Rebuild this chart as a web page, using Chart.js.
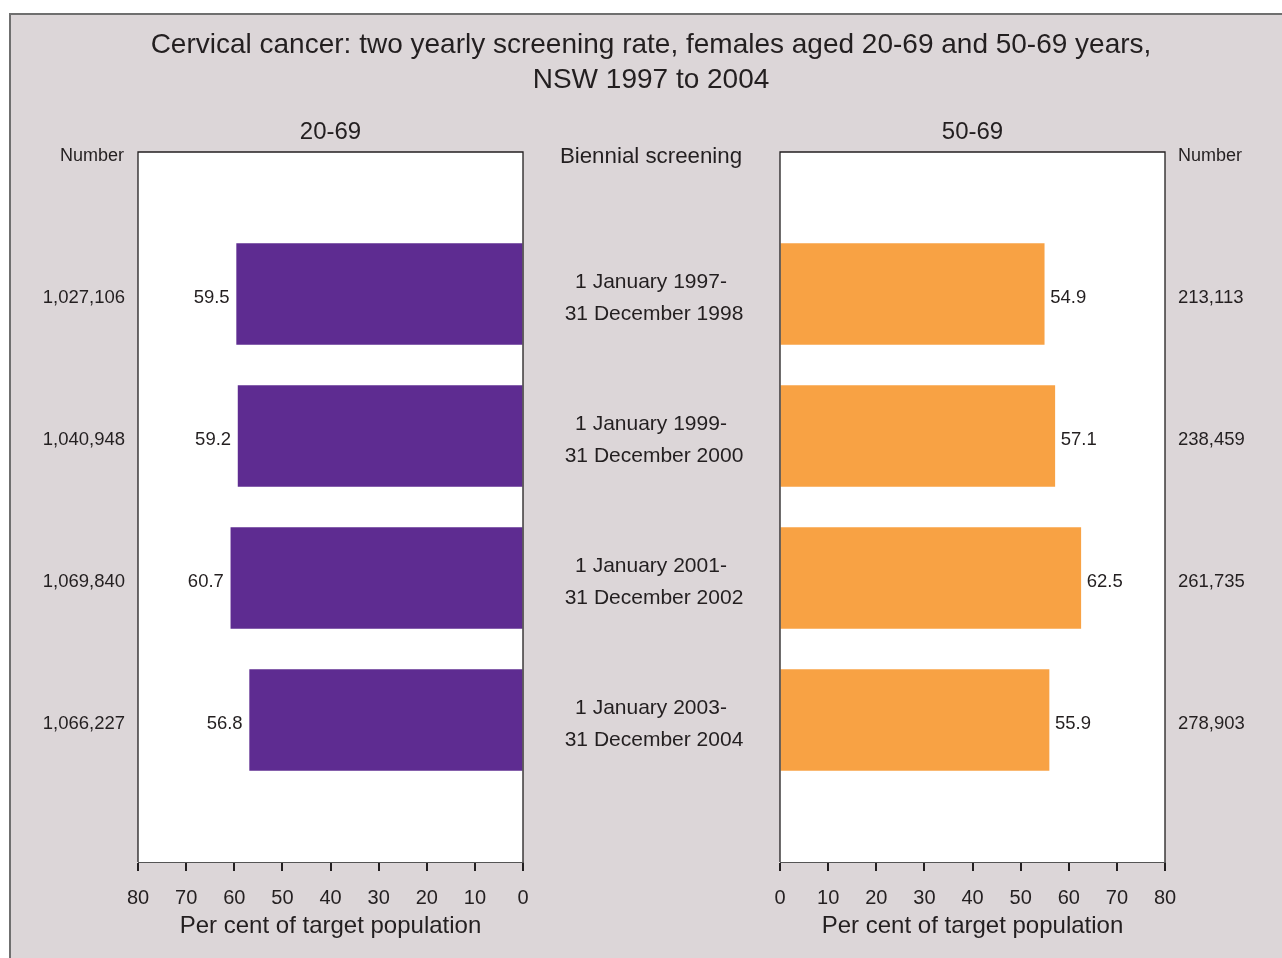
<!DOCTYPE html>
<html>
<head>
<meta charset="utf-8">
<script src="https://cdn.jsdelivr.net/npm/chart.js@4.4.1/dist/chart.umd.min.js"></script>
<style>
  body { margin: 0; background: #ffffff; overflow: hidden; }
  #frame { position: absolute; left: 9px; top: 13px; width: 1300px; height: 1000px;
           background: #dcd6d8; border-top: 2px solid #6f6f6f; border-left: 2px solid #6f6f6f; }
  canvas { position: absolute; left: 0; top: 0; }
</style>
</head>
<body>
<div id="frame"></div>
<canvas id="left" width="1282" height="958"></canvas>
<canvas id="right" width="1282" height="958"></canvas>
<script>
// Biennial screening periods
const periods = [
  ['1 January 1997-', '31 December 1998'],
  ['1 January 1999-', '31 December 2000'],
  ['1 January 2001-', '31 December 2002'],
  ['1 January 2003-', '31 December 2004']
]
// females aged 20-69
const numbers2069 = [1027106, 1040948, 1069840, 1066227]
const pct2069 = [59.5, 59.2, 60.7, 56.8]
// females aged 50-69
const numbers5069 = [213113, 238459, 261735, 278903]
const pct5069 = [54.9, 57.1, 62.5, 55.9]

const titleLines = ['Cervical cancer: two yearly screening rate, females aged 20-69 and 50-69 years,', 'NSW 1997 to 2004']
const axisTitle = 'Per cent of target population'

const FONT = '"Liberation Sans", Arial, Helvetica, sans-serif'
const TEXT = '#231f20'
Chart.defaults.font.family = FONT
Chart.defaults.color = TEXT

// blank slot above and below the four periods
const labels = [''].concat(periods.map(p => p.join(' '))).concat([''])
function pad(arr) { return [null].concat(arr).concat([null]) }
function fmt(n) { return n.toLocaleString('en-US') }

// white plot area with a dark frame round it
const plotBox = {
  id: 'plotBox',
  beforeDraw(chart) {
    const a = chart.chartArea, ctx = chart.ctx
    ctx.save()
    ctx.fillStyle = '#ffffff'
    ctx.fillRect(a.left, a.top, a.right - a.left, a.bottom - a.top)
    ctx.restore()
  },
  afterDatasetsDraw(chart) {
    const a = chart.chartArea, ctx = chart.ctx
    ctx.save()
    ctx.strokeStyle = TEXT
    ctx.lineWidth = 1.3
    ctx.beginPath()
    ctx.moveTo(a.left, a.bottom)
    ctx.lineTo(a.left, a.top)
    ctx.lineTo(a.right, a.top)
    ctx.lineTo(a.right, a.bottom)
    ctx.stroke()
    ctx.restore()
  }
}

// value next to the end of each bar
const valueLabels = {
  id: 'valueLabels',
  afterDatasetsDraw(chart, args, opts) {
    const ctx = chart.ctx
    const meta = chart.getDatasetMeta(0)
    const data = chart.data.datasets[0].data
    ctx.save()
    ctx.font = '18.5px ' + FONT
    ctx.fillStyle = TEXT
    ctx.textBaseline = 'middle'
    ctx.textAlign = opts.side == 'left' ? 'right' : 'left'
    meta.data.forEach((bar, i) => {
      if (data[i] == null) return
      const x = opts.side == 'left' ? bar.x - 7 : bar.x + 6
      ctx.fillText(data[i].toFixed(1), x, bar.y + 4)
    })
    ctx.restore()
  }
}

// headings and the period labels in the middle
const headings = {
  id: 'headings',
  afterDraw(chart, args, opts) {
    const ctx = chart.ctx
    const a = chart.chartArea
    ctx.save()
    ctx.fillStyle = TEXT
    ctx.textBaseline = 'middle'
    ctx.textAlign = 'center'
    ctx.font = '24px ' + FONT
    ctx.fillText(opts.group, (a.left + a.right) / 2, 132)
    ctx.font = '18px ' + FONT
    if (opts.side == 'left') {
      ctx.textAlign = 'right'
      ctx.fillText('Number', 124, 156)
      ctx.textAlign = 'center'
      ctx.font = '28px ' + FONT
      ctx.fillText(titleLines[0], 651, 45)
      ctx.fillText(titleLines[1], 651, 80)
      ctx.font = '22.3px ' + FONT
      ctx.fillText('Biennial screening', 651, 157)
      ctx.font = '21px ' + FONT
      const y = chart.scales.y
      periods.forEach((p, i) => {
        const cy = y.getPixelForValue(i + 1)
        ctx.fillText(p[0], 651, cy - 12)
        ctx.fillText(p[1], 654, cy + 20)
      })
    } else {
      ctx.textAlign = 'left'
      ctx.fillText('Number', 1178, 156)
    }
    ctx.restore()
  }
}

function makeChart(id, side, group, values, numbers, color) {
  const left = side == 'left'
  return new Chart(document.getElementById(id), {
    type: 'bar',
    data: {
      labels: labels,
      datasets: [{
        label: group,
        data: pad(values),
        backgroundColor: color,
        borderWidth: 0,
        barThickness: 101
      }]
    },
    options: {
      indexAxis: 'y',
      responsive: false,
      animation: false,
      events: [],
      layout: { padding: left ? { left: 0, right: 759, top: 152, bottom: 0 } : { left: 780, right: 0, top: 152, bottom: 0 } },
      plugins: {
        legend: { display: false },
        tooltip: { enabled: false },
        valueLabels: { side: side },
        headings: { side: side, group: group }
      },
      scales: {
        x: {
          reverse: left,
          min: 0,
          max: 80,
          ticks: { stepSize: 10, font: { size: 20 }, color: TEXT, padding: 15 },
          grid: { drawOnChartArea: false, tickLength: 9, color: TEXT, lineWidth: 2 },
          border: { color: '#555555', width: 1 },
          title: { display: true, text: axisTitle, font: { size: 24 }, color: TEXT, padding: { top: 0, bottom: 17 } },
          afterFit: s => { s.height = 96 }
        },
        y: {
          position: side,
          offset: false,
          ticks: {
            autoSkip: false,
            font: { size: 18.5 },
            color: TEXT,
            padding: 13,
            labelOffset: 4,
            callback: (v, i) => (i > 0 && i <= numbers.length) ? fmt(numbers[i - 1]) : ''
          },
          grid: { display: false, drawTicks: false },
          border: { display: false },
          afterFit: s => { s.width = left ? 138 : 117 }
        }
      }
    },
    plugins: [plotBox, valueLabels, headings]
  })
}

makeChart('left', 'left', '20-69', pct2069, numbers2069, '#5e2c91')
makeChart('right', 'right', '50-69', pct5069, numbers5069, '#f8a244')
</script>
</body>
</html>
